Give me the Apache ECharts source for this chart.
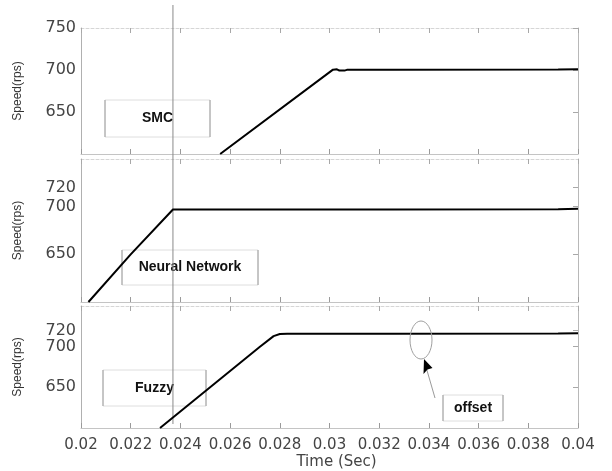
<!DOCTYPE html>
<html>
<head>
<meta charset="utf-8">
<script src="https://cdn.jsdelivr.net/npm/echarts@6/dist/echarts.min.js"></script>
<style>
  html, body { margin: 0; padding: 0; background: #fff; }
  #chart { width: 612px; height: 471px; }
</style>
</head>
<body>
<div id="chart"></div>
<script>
// Speed response of three controllers (time in seconds, speed in rps)
const smcTime   = [0.0256, 0.03014, 0.0303, 0.0304, 0.0306, 0.0307, 0.0325, 0.03255, 0.0392, 0.03925, 0.04];
const smcSpeed  = [600,    700.4,   700.8,  699.3,  699.3,  700.2,  700.2,  700.5,   700.5,  700.8,   700.8];

const nnTime    = [0.0203, 0.0220, 0.0237, 0.0325, 0.03255, 0.0392, 0.03925, 0.04];
const nnSpeed   = [600,    650,    697,    697,    697.4,   697.4,  697.8,   697.8];

const fuzzyTime  = [0.02318, 0.0272, 0.02775, 0.0280, 0.0283, 0.0325, 0.03255, 0.0392, 0.03925, 0.04];
const fuzzySpeed = [600,     700,    713,     715.5,  716,    716,    716.3,   716.3,  716.6,   716.6];

const panelNames = ['SMC', 'Neural Network', 'Fuzzy'];
const speedTicksTop = [650, 700, 750];
const speedTicksLow = [650, 700, 720];
const cursorTime = 0.0237;
const offsetLabel = 'offset';

const seriesSets = [
  { t: smcTime, v: smcSpeed, ticks: speedTicksTop },
  { t: nnTime, v: nnSpeed, ticks: speedTicksLow },
  { t: fuzzyTime, v: fuzzySpeed, ticks: speedTicksLow }
];

const grids = [
  { left: 81, right: 34, top: 28, height: 126 },
  { left: 81, right: 34, top: 159, height: 143 },
  { left: 81, right: 34, top: 306, height: 122 }
];

const tickFont = { fontFamily: 'DejaVu Sans', fontSize: 15, color: '#444' };

const xAxes = [];
const yAxes = [];
const series = [];

seriesSets.forEach((s, i) => {
  const last = i === seriesSets.length - 1;
  // bottom time axis
  xAxes.push({
    gridIndex: i, type: 'value', position: 'bottom',
    min: 0.02, max: 0.04, interval: 0.002,
    axisLine: { show: true, onZero: false, lineStyle: { color: '#c4c4c4', width: 1 } },
    axisTick: { show: true, inside: true, length: 5, lineStyle: { color: '#9a9a9a' } },
    axisLabel: Object.assign({ show: last, margin: 10, formatter: v => String(+v.toFixed(3)) }, tickFont),
    splitLine: { show: false },
    name: last ? 'Time (Sec)' : '',
    nameLocation: 'middle', nameGap: 27,
    nameTextStyle: { fontFamily: 'DejaVu Sans', fontSize: 15, color: '#444', padding: [0, 0, 0, 14] }
  });
  // top frame edge
  xAxes.push({
    gridIndex: i, type: 'value', position: 'top',
    min: 0.02, max: 0.04, interval: 0.002,
    axisLine: { show: true, onZero: false, lineStyle: { color: '#d6d6d6', width: 1, type: [3, 2] } },
    axisTick: { show: true, inside: true, length: 5, lineStyle: { color: '#a8a8a8' } },
    axisLabel: { show: false },
    splitLine: { show: false }
  });
  // speed axis (left)
  yAxes.push({
    gridIndex: i, type: 'value', position: 'left',
    min: 600, max: 750,
    axisLine: { show: true, onZero: false, lineStyle: { color: '#b0b0b0', width: 1 } },
    axisTick: { show: false },
    axisLabel: { show: true, margin: 5, customValues: s.ticks, fontSize: 16, fontFamily: 'DejaVu Sans', color: '#444' },
    splitLine: { show: false },
    name: 'Speed(rps)', nameLocation: 'middle', nameGap: 57, nameRotate: 90,
    nameTextStyle: { fontFamily: 'Liberation Sans', fontSize: 12, color: '#333' }
  });
  // right frame edge
  yAxes.push({
    gridIndex: i, type: 'value', position: 'right',
    min: 600, max: 750,
    axisLine: { show: true, onZero: false, lineStyle: { color: '#b8b8b8', width: 1 } },
    axisTick: { show: true, inside: true, length: 5, customValues: s.ticks, lineStyle: { color: '#a8a8a8' } },
    axisLabel: { show: false },
    splitLine: { show: false }
  });
  series.push({
    type: 'line',
    xAxisIndex: 2 * i, yAxisIndex: 2 * i,
    data: s.t.map((t, k) => [t, s.v[k]]),
    showSymbol: false, symbol: 'none',
    lineStyle: { color: '#000', width: 2 },
    clip: true,
    z: 5
  });
});

const chart = echarts.init(document.getElementById('chart'), null, { renderer: 'canvas' });
chart.setOption({
  animation: false,
  backgroundColor: '#fff',
  grid: grids,
  xAxis: xAxes,
  yAxis: yAxes,
  series: series
});

// Annotation boxes
function labelBox(x, y, w, h, text, size) {
  return {
    type: 'group', x: x, y: y, z: 10,
    children: [
      { type: 'rect', shape: { x: 0, y: 0, width: w, height: h },
        style: { fill: 'rgba(255,255,255,0)', stroke: '#dedede', lineWidth: 1 } },
      { type: 'line', shape: { x1: 0, y1: 0, x2: 0, y2: h }, style: { stroke: '#9c9c9c', lineWidth: 1 } },
      { type: 'line', shape: { x1: w, y1: 0, x2: w, y2: h }, style: { stroke: '#9c9c9c', lineWidth: 1 } },
      { type: 'text', x: w / 2, y: h / 2,
        style: { text: text, fontFamily: 'Liberation Sans', fontWeight: 'bold', fontSize: size,
                 fill: '#111', align: 'center', verticalAlign: 'middle' } }
    ]
  };
}

const cursorX = chart.convertToPixel({ xAxisIndex: 0 }, cursorTime);

chart.setOption({
  graphic: [
    // vertical cursor through all panels
    { type: 'line', z: 4, shape: { x1: cursorX, y1: 5, x2: cursorX, y2: 424 },
      style: { stroke: '#8a8a8a', lineWidth: 1 } },
    labelBox(105, 100, 105, 37, panelNames[0], 14),
    labelBox(122, 250, 136, 35, panelNames[1], 14),
    labelBox(103, 370, 103, 36, panelNames[2], 14),
    labelBox(443, 395, 60, 26, offsetLabel, 14),
    // ellipse marking the steady-state offset
    { type: 'ellipse', z: 10, shape: { cx: 421, cy: 340, rx: 11, ry: 19 },
      style: { fill: 'rgba(0,0,0,0)', stroke: '#a0a0a0', lineWidth: 1 } },
    // pointer arrow
    { type: 'line', z: 10, shape: { x1: 435, y1: 398, x2: 426, y2: 367 },
      style: { stroke: '#9a9a9a', lineWidth: 1 } },
    { type: 'polygon', z: 11, shape: { points: [[424, 359], [423.5, 374], [427.5, 369.5], [432.5, 368]] },
      style: { fill: '#000' } }
  ]
});
</script>
</body>
</html>
